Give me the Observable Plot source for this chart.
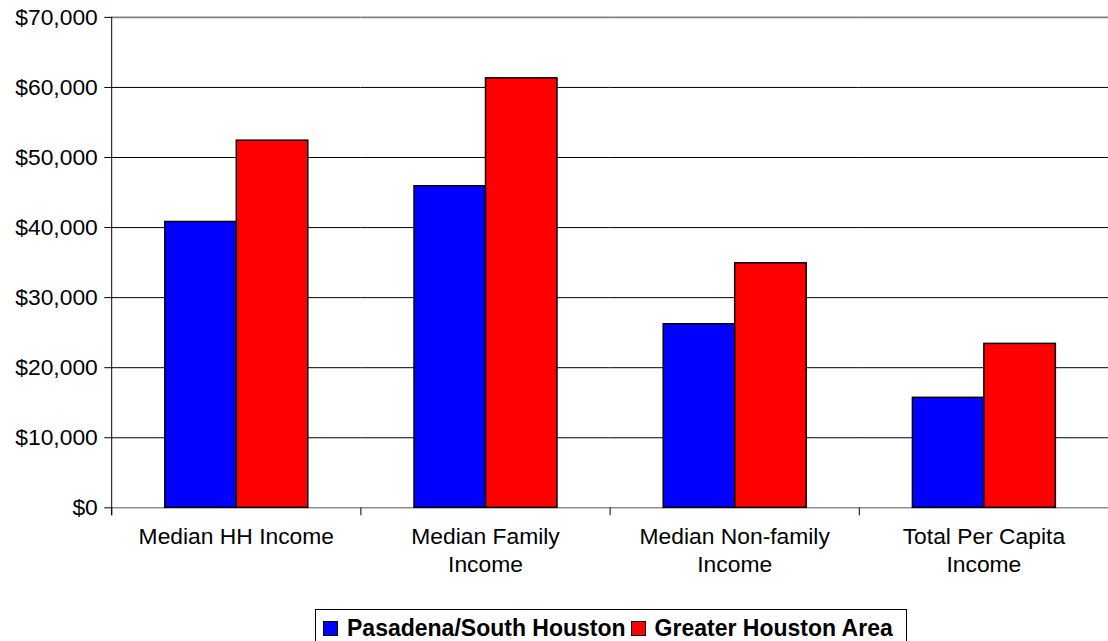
<!DOCTYPE html>
<html><head><meta charset="utf-8">
<script src="https://cdn.jsdelivr.net/npm/d3@7"></script>
<script src="https://cdn.jsdelivr.net/npm/@observablehq/plot@0.6"></script>
<style>
html,body{margin:0;padding:0;background:#fff;overflow:hidden;width:1108px;height:641px;position:relative;}
#chart{position:absolute;left:0;top:0;}
#legend{position:absolute;left:315px;top:609px;height:40px;border:1px solid #000;border-bottom:none;background:#fff;
  display:flex;align-items:flex-start;padding:7px 8px 0 7px;box-sizing:border-box;
  font-family:'Liberation Sans',Arial,sans-serif;font-weight:bold;font-size:23px;color:#000;white-space:nowrap;}
#legend .sw{display:block;width:15px;height:15px;min-width:15px;border:1px solid #000;margin-top:4px;margin-right:9px;box-sizing:border-box;flex:none;}
#legend .item{display:flex;align-items:flex-start;margin-right:5px;line-height:23px;}
</style></head><body>
<div id="chart"></div><div id="legend"></div>
<script>
const categories = ["Median HH Income","Median Family Income","Median Non-family Income","Total Per Capita Income"];
const tickLabels = ["Median HH Income","Median Family\nIncome","Median Non-family\nIncome","Total Per Capita\nIncome"];
const seriesNames = ["Pasadena/South Houston","Greater Houston Area"];
const seriesColors = ["#0000FF","#FF0000"];
const pasadena = [40800, 45900, 26200, 15700];
const greaterHouston = [52400, 61300, 34900, 23400];
const yTicks = [0,10000,20000,30000,40000,50000,60000,70000];

const data = categories.flatMap((c,i)=>[
  {category:c, series:seriesNames[0], value:pasadena[i]},
  {category:c, series:seriesNames[1], value:greaterHouston[i]}
]);
const labelOf = new Map(categories.map((c,i)=>[c,tickLabels[i]]));

const chart = Plot.plot({
  width: 1116, height: 600, marginLeft: 112, marginRight: 0, marginTop: 17, marginBottom: 89,
  style: {fontFamily: "'Liberation Sans', Arial, sans-serif", fontSize: "23px", color: "#000", background: "#fff", overflow: "visible"},
  fx: {domain: categories, padding: 0, label: null},
  x: {domain: seriesNames, paddingInner: 0, paddingOuter: 0.743, axis: null},
  y: {domain: [0,70000], label: null},
  color: {domain: seriesNames, range: seriesColors},
  marks: [
    Plot.ruleY(yTicks.filter(v=>v>0 && v<70000), {stroke:"#000", strokeWidth:1}),
    Plot.ruleY([70000], {stroke:"#808080", strokeWidth:2}),
    Plot.ruleY([0], {stroke:"#555", strokeWidth:1}),
    Plot.barY(data, {fx:"category", x:"series", y:"value", fill:"series", stroke:"#000", strokeWidth:1.5}),
    Plot.frame({anchor:"left", facetAnchor:"left", stroke:"#000", insetBottom:-7}),
    Plot.frame({anchor:"left", stroke:"#000", insetTop:494, insetBottom:-7}),
    Plot.axisY({ticks: yTicks, tickFormat: d3.format("$,"), tickSize:7, tickPadding:7, label:null}),
    Plot.axisFx({anchor:"bottom", tickSize:0, tickPadding:17, tickFormat: d=>labelOf.get(d), lineHeight:1.2, label:null})
  ]
});
document.getElementById("chart").appendChild(chart);

const legend = document.getElementById("legend");
seriesNames.forEach((s,i)=>{
  const item = document.createElement("div");
  item.className = "item";
  const sw = document.createElement("span");
  sw.className = "sw";
  sw.style.background = seriesColors[i];
  const t = document.createElement("span");
  t.textContent = s;
  item.appendChild(sw); item.appendChild(t);
  legend.appendChild(item);
});
</script>
</body></html>
